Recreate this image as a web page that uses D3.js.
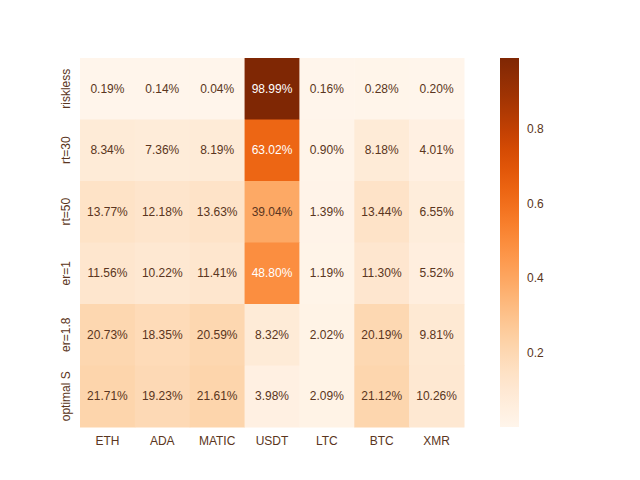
<!DOCTYPE html>
<html><head><meta charset="utf-8">
<script src="https://cdn.jsdelivr.net/npm/d3@7"></script>
<style>body{margin:0;background:#fff}text{font-family:"Liberation Sans",Arial,sans-serif}</style>
</head><body><svg id="c" width="640" height="480"></svg>
<script>
var cols = ["ETH", "ADA", "MATIC", "USDT", "LTC", "BTC", "XMR"];
var rows = ["riskless", "rt=30", "rt=50", "er=1", "er=1.8", "optimal S"];
var values = [
  [0.0019, 0.0014, 0.0004, 0.9899, 0.0016, 0.0028, 0.0020],
  [0.0834, 0.0736, 0.0819, 0.6302, 0.0090, 0.0818, 0.0401],
  [0.1377, 0.1218, 0.1363, 0.3904, 0.0139, 0.1344, 0.0655],
  [0.1156, 0.1022, 0.1141, 0.4880, 0.0119, 0.1130, 0.0552],
  [0.2073, 0.1835, 0.2059, 0.0832, 0.0202, 0.2019, 0.0981],
  [0.2171, 0.1923, 0.2161, 0.0398, 0.0209, 0.2112, 0.1026]
];
var cbTicks = [0.2, 0.4, 0.6, 0.8];
var txt = "#5a3520";

var svg = d3.select("#c");
var x = d3.scaleBand().domain(cols).range([80, 464]);
var y = d3.scaleBand().domain(rows).range([58, 427]);
var flat = values.flat();
var lo = d3.min(flat), hi = d3.max(flat);
var color = function(v){ return d3.interpolateOranges((v - lo) / (hi - lo)); };

var cells = [];
values.forEach(function(r, i){ r.forEach(function(v, j){ cells.push({r: rows[i], c: cols[j], v: v}); }); });

svg.selectAll("rect.cell").data(cells).enter().append("rect")
  .attr("x", function(d){ return x(d.c); }).attr("y", function(d){ return y(d.r); })
  .attr("width", x.bandwidth() + 0.5).attr("height", y.bandwidth() + 0.5)
  .attr("fill", function(d){ return color(d.v); });

svg.selectAll("text.ann").data(cells).enter().append("text")
  .attr("x", function(d){ return x(d.c) + x.bandwidth() / 2; })
  .attr("y", function(d){ return y(d.r) + y.bandwidth() / 2; })
  .attr("dy", "0.35em").attr("text-anchor", "middle").attr("font-size", 12)
  .attr("fill", function(d){ return (d.v - lo) / (hi - lo) > 0.45 ? "#fff" : txt; })
  .text(function(d){ return (d.v * 100).toFixed(2) + "%"; });

svg.selectAll("text.xl").data(cols).enter().append("text")
  .attr("x", function(d){ return x(d) + x.bandwidth() / 2; }).attr("y", 445)
  .attr("text-anchor", "middle").attr("font-size", 12).attr("fill", txt).text(function(d){ return d; });

svg.selectAll("text.yl").data(rows).enter().append("text")
  .attr("transform", function(d){ return "translate(70," + (y(d) + y.bandwidth() / 2) + ") rotate(-90)"; })
  .attr("text-anchor", "middle").attr("font-size", 12).attr("fill", txt).text(function(d){ return d; });

// colorbar
var cb = d3.scaleLinear().domain([lo, hi]).range([427, 58]);
var defs = svg.append("defs");
var grad = defs.append("linearGradient").attr("id", "g").attr("x1", 0).attr("y1", 1).attr("x2", 0).attr("y2", 0);
d3.range(0, 1.01, 0.05).forEach(function(t){
  grad.append("stop").attr("offset", t).attr("stop-color", d3.interpolateOranges(t));
});
svg.append("rect").attr("x", 500).attr("y", 58).attr("width", 19).attr("height", 369).attr("fill", "url(#g)");
svg.selectAll("text.cb").data(cbTicks).enter().append("text")
  .attr("x", 527).attr("y", function(d){ return cb(d); }).attr("dy", "0.35em")
  .attr("font-size", 12).attr("fill", txt).text(function(d){ return d.toFixed(1); });
</script></body></html>
